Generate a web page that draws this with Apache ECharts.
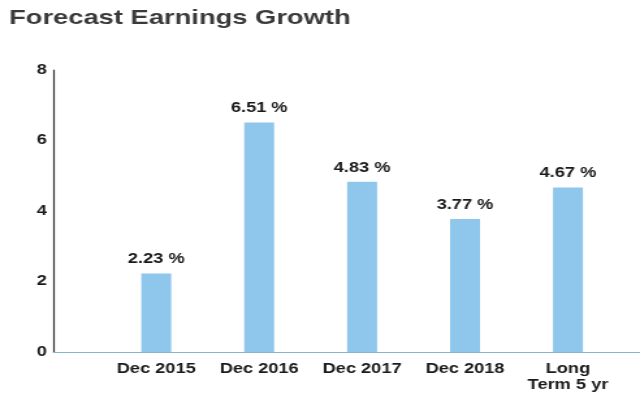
<!DOCTYPE html>
<html>
<head>
<meta charset="utf-8">
<script src="https://cdn.jsdelivr.net/npm/echarts@6/dist/echarts.min.js"></script>
<style>
html,body{margin:0;padding:0;background:#fff;overflow:hidden;}
/* the reference picture is stretched sideways, so draw narrow and stretch */
#chart{width:492px;height:397px;transform:scaleX(1.3008);transform-origin:0 0;}
</style>
</head>
<body>
<div id="chart"></div>
<script>
var categories = ['Dec 2015', 'Dec 2016', 'Dec 2017', 'Dec 2018', 'Long\nTerm 5 yr']
var growth = [2.23, 6.51, 4.83, 3.77, 4.67]
var yTicks = [0, 2, 4, 6, 8]

var barData = []
for (let i = 0; i < growth.length; i++) {
    barData.push([i, growth[i]])
}

var option = {
    animation: false,
    textStyle: { fontFamily: 'Liberation Sans, Arial, sans-serif' },
    title: {
        text: 'Forecast Earnings Growth',
        left: 2,
        top: 3,
        textStyle: {
            fontSize: 21,
            fontWeight: 'bold',
            color: '#3a3a3a'
        }
    },
    grid: { left: 41, right: 0, top: 70, bottom: 45 },
    xAxis: {
        type: 'value',
        min: -1,
        max: 4.7,
        interval: 1,
        splitLine: { show: false },
        axisTick: { show: false },
        axisLine: { lineStyle: { color: '#86b4cc', width: 1 } },
        axisLabel: {
            showMinLabel: true,
            showMaxLabel: false,
            margin: 9,
            color: '#1a1a1a',
            fontSize: 14,
            fontWeight: 'bold',
            lineHeight: 16,
            formatter: function (v) {
                return categories[v] || ''
            }
        }
    },
    yAxis: {
        type: 'value',
        min: yTicks[0],
        max: yTicks[yTicks.length - 1],
        interval: 2,
        splitLine: { show: false },
        axisTick: { show: false },
        axisLine: { show: true, onZero: false, lineStyle: { color: '#333333', width: 1.2 } },
        axisLabel: {
            margin: 5,
            color: '#1a1a1a',
            fontSize: 14,
            fontWeight: 'bold'
        }
    },
    series: [
        {
            type: 'bar',
            data: barData,
            barWidth: 23,
            itemStyle: { color: '#8ec6ec' },
            label: {
                show: true,
                position: 'top',
                distance: 7,
                color: '#1a1a1a',
                fontSize: 14,
                fontWeight: 'bold',
                formatter: function (p) {
                    return p.value[1].toFixed(2) + ' %'
                }
            }
        }
    ]
}

var myChart = echarts.init(document.getElementById('chart'))
myChart.setOption(option)
</script>
</body>
</html>
